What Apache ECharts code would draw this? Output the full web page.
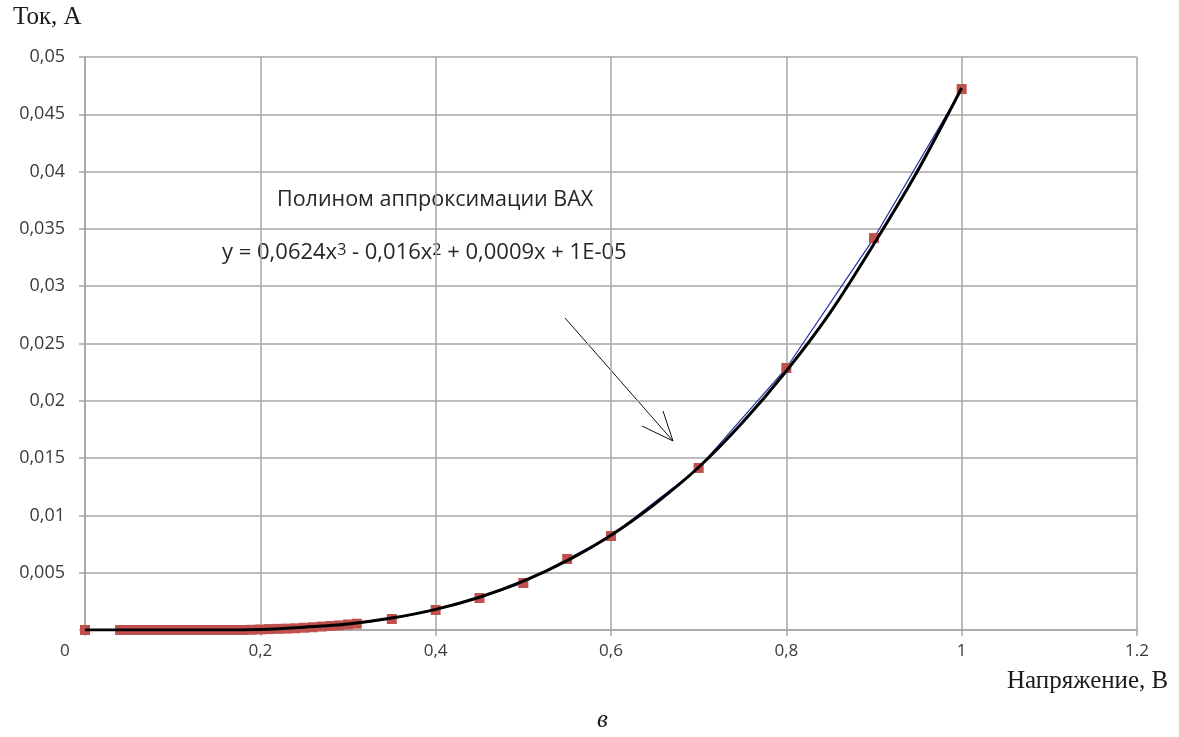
<!DOCTYPE html>
<html>
<head>
<meta charset="utf-8">
<script src="https://cdn.jsdelivr.net/npm/echarts@6/dist/echarts.min.js"></script>
<style>
  html, body { margin: 0; padding: 0; background: #fff; }
  #chart { width: 1179px; height: 737px; }
</style>
</head>
<body>
<div id="chart"></div>
<script>
// measured points: voltage (V) and current (A)
const voltage = [
  0, 0.04, 0.05, 0.06, 0.07, 0.08, 0.09, 0.10, 0.11, 0.12, 0.13, 0.14, 0.15,
  0.16, 0.17, 0.18, 0.19, 0.20, 0.21, 0.22, 0.23, 0.24, 0.25, 0.26, 0.27,
  0.28, 0.29, 0.30, 0.31, 0.35, 0.40, 0.45, 0.50, 0.55, 0.60, 0.70, 0.80,
  0.90, 1.00
];
const current = [
  0, 0, 0, 0, 0, 0, 0, 0, 0, 0, 0, 0, 0,
  0, 0, 0, 0.00002, 0.00005, 0.00008, 0.0001, 0.00012, 0.00015, 0.0002, 0.00024, 0.0003,
  0.00035, 0.0004, 0.00048, 0.00055, 0.00096, 0.00175, 0.00279, 0.0041, 0.0062, 0.0082, 0.01414, 0.02286,
  0.0342, 0.0472
];

// polynomial trendline
const trendX = [0, 0.05, 0.1, 0.15, 0.2, 0.25, 0.3, 0.35, 0.4, 0.45, 0.5,
  0.55, 0.6, 0.65, 0.7, 0.75, 0.8, 0.85, 0.9, 0.95, 1.0];
const trendY = [0, 0, 0, 0, 0.00005, 0.00025, 0.00053, 0.00104, 0.0018, 0.00286, 0.00426,
  0.00605, 0.00827, 0.011, 0.0142, 0.0181, 0.0226, 0.0277, 0.0337, 0.0401, 0.0473];

const xTicks = { 0: '', 0.2: '0,2', 0.4: '0,4', 0.6: '0,6', 0.8: '0,8', 1: '1', 1.2: '1.2' };

const gridColor = '#a6a6a6';
const labelColor = '#3a3a3a';

const chart = echarts.init(document.getElementById('chart'));

chart.setOption({
  backgroundColor: '#fff',
  animation: false,
  grid: { left: 85, right: 42, top: 57, bottom: 107 },
  xAxis: {
    type: 'value',
    min: 0,
    max: 1.2,
    interval: 0.2,
    axisLine: { lineStyle: { color: gridColor, width: 1.5 } },
    axisTick: { show: true, length: 6, lineStyle: { color: gridColor, width: 1.5 } },
    splitLine: { show: true, lineStyle: { color: gridColor, width: 1.5 } },
    axisLabel: {
      color: labelColor,
      fontFamily: 'Open Sans',
      fontSize: 17,
      margin: 13,
      formatter: (v) => xTicks[Number(v.toFixed(2))] ?? ''
    }
  },
  yAxis: {
    type: 'value',
    min: 0,
    max: 0.05,
    interval: 0.005,
    axisLine: { show: true, lineStyle: { color: gridColor, width: 1.5 } },
    axisTick: { show: true, length: 6, lineStyle: { color: gridColor, width: 1.5 } },
    splitLine: { show: true, lineStyle: { color: gridColor, width: 1.5 } },
    axisLabel: {
      color: labelColor,
      fontFamily: 'Open Sans',
      fontSize: 18,
      margin: 20,
      formatter: (v) => v === 0 ? '' : String(Number(v.toFixed(4))).replace('.', ',')
    }
  },
  series: [
    {
      name: 'data',
      type: 'line',
      data: voltage.map((v, i) => [v, current[i]]),
      symbol: 'rect',
      symbolSize: 10,
      itemStyle: { color: '#c0504d' },
      lineStyle: { color: '#1f2f9f', width: 1.2 },
      z: 2
    },
    {
      name: 'trend',
      type: 'line',
      data: trendX.map((v, i) => [v, trendY[i]]),
      smooth: 0.3,
      showSymbol: false,
      lineStyle: { color: '#000', width: 3 },
      z: 3
    }
  ],
  graphic: [
    { type: 'text', left: 13, top: 5, style: { text: 'Ток, А', font: '25px "Liberation Serif"', fill: '#1a1a1a' } },
    { type: 'text', left: 1007, top: 669, style: { text: 'Напряжение, В', font: '25px "Liberation Serif"', fill: '#1a1a1a' } },
    { type: 'text', left: 597, top: 708, style: { text: 'в', font: 'italic 25px "Liberation Serif"', fill: '#1a1a1a' } },
    { type: 'text', left: 60, top: 643, style: { text: '0', font: '17px "Open Sans"', fill: labelColor } },
    { type: 'text', left: 277, top: 189, style: { text: 'Полином аппроксимации ВАХ', font: '21.5px "Open Sans"', fill: '#262626' } },
    {
      type: 'text', left: 222, top: 242,
      style: {
        text: 'y = 0,0624x{s|3} - 0,016x{s|2} + 0,0009x + 1E-05',
        font: '22px "Open Sans"',
        fill: '#262626',
        rich: { s: { fontSize: 16, verticalAlign: 'top', lineHeight: 18, fontFamily: 'Open Sans', fill: '#262626' } }
      }
    },
    { type: 'line', shape: { x1: 565, y1: 318, x2: 673, y2: 441 }, style: { stroke: '#111', lineWidth: 1 } },
    { type: 'polyline', shape: { points: [[642, 426], [673, 441], [663, 411]] }, style: { stroke: '#111', lineWidth: 1, fill: null } }
  ]
});
</script>
</body>
</html>
